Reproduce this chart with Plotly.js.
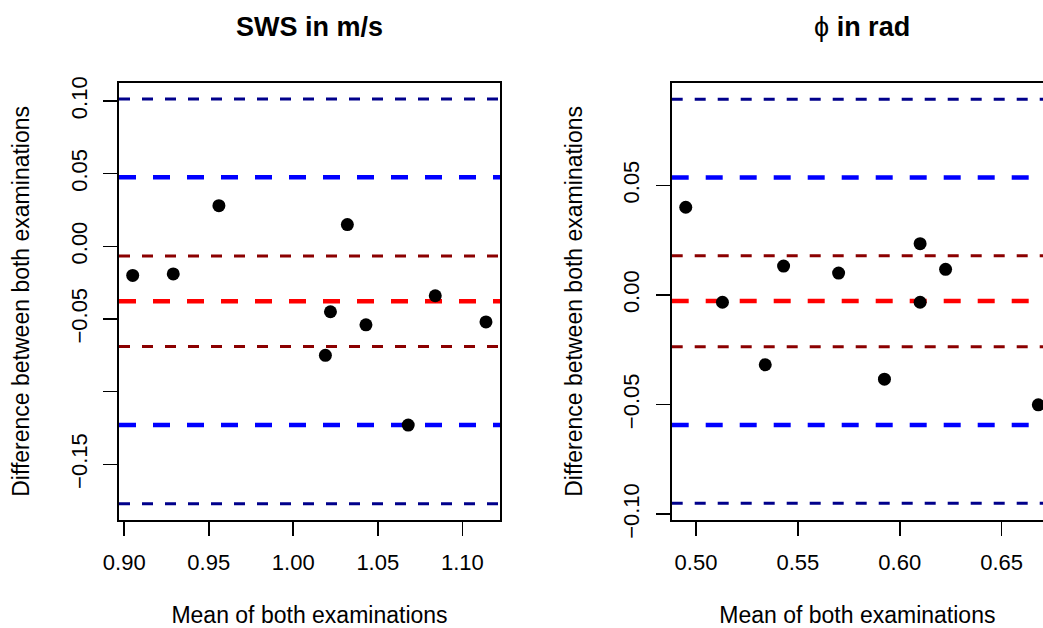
<!DOCTYPE html>
<html>
<head>
<meta charset="utf-8">
<script src="https://cdn.plot.ly/plotly-3.0.1.min.js"></script>
<style>
  html, body { margin: 0; padding: 0; background: #ffffff; }
  #chart { width: 1043px; height: 628px; }
</style>
</head>
<body>
<div id="chart"></div>
<script>
// ---------- data ----------
// Panel 1: SWS in m/s
const swsMean = [0.905, 0.929, 0.956, 1.019, 1.022, 1.032, 1.043, 1.068, 1.084, 1.114];
const swsDiff = [-0.020, -0.019, 0.028, -0.075, -0.045, 0.015, -0.054, -0.123, -0.034, -0.052];
// reference lines: outer upper, LoA upper, CI upper, mean diff, CI lower, LoA lower, outer lower
const swsRefLines = [0.1014, 0.0475, -0.0067, -0.0377, -0.0690, -0.1229, -0.1771];
const swsXTicks = [0.90, 0.95, 1.00, 1.05, 1.10];
const swsXTickText = ["0.90", "0.95", "1.00", "1.05", "1.10"];
const swsYTicks = [0.10, 0.05, 0.00, -0.05, -0.10, -0.15];
const swsYTickText = ["0.10", "0.05", "0.00", "\u22120.05", "", "\u22120.15"];

// Panel 2: phi in rad
const phiMean = [0.495, 0.513, 0.534, 0.543, 0.570, 0.5925, 0.610, 0.610, 0.6225, 0.668];
const phiDiff = [0.040, -0.0033, -0.0318, 0.0132, 0.0100, -0.0384, 0.0234, -0.0033, 0.0117, -0.0501];
const phiRefLines = [0.0893, 0.0536, 0.0179, -0.0027, -0.0236, -0.0593, -0.0950];
const phiXTicks = [0.50, 0.55, 0.60, 0.65];
const phiXTickText = ["0.50", "0.55", "0.60", "0.65"];
const phiYTicks = [0.05, 0.00, -0.05, -0.10];
const phiYTickText = ["0.05", "0.00", "\u22120.05", "\u22120.10"];

const panelTitles = ["<b>SWS in m/s</b>", "\u03d5 <b>in rad</b>"];
const xTitle = "Mean of both examinations";
const yTitle = "Difference between both examinations";

// ---------- styles ----------
const lineStyles = [
  {color: "#00008B", width: 3, dash: "11px,12px"},
  {color: "#0000FF", width: 4.5, dash: "17px,17px"},
  {color: "#8B0000", width: 3, dash: "11px,12px"},
  {color: "#FF0000", width: 4.5, dash: "17px,17px"},
  {color: "#8B0000", width: 3, dash: "11px,12px"},
  {color: "#0000FF", width: 4.5, dash: "17px,17px"},
  {color: "#00008B", width: 3, dash: "11px,12px"}
];

const FONT = "Liberation Sans, Arial, Helvetica, sans-serif";
const W = 1043, H = 628;

function makeShapes(vals, xref, yref) {
  return vals.map((v, i) => ({
    type: "line", xref: xref + " domain", yref: yref,
    x0: 0, x1: 1, y0: v, y1: v,
    line: {color: lineStyles[i].color, width: lineStyles[i].width, dash: lineStyles[i].dash},
    layer: "below"
  }));
}

function xAxis(domain, range, tv, tt, anchor, mirror) {
  return {
    domain: domain, range: range, anchor: anchor,
    showline: true, linecolor: "#000", linewidth: 1.6, mirror: mirror,
    showgrid: false, zeroline: false,
    ticks: "outside", ticklen: 14, tickwidth: 1.6, tickcolor: "#000",
    tickvals: tv, ticktext: tt,
    tickfont: {family: FONT, size: 22, color: "#000"},
    ticklabelstandoff: 8,
    title: {text: xTitle, font: {family: FONT, size: 23, color: "#000"}, standoff: 35},
    automargin: false
  };
}
function yAxis(domain, range, tv, tt, anchor, mirror) {
  return {
    domain: domain, range: range, anchor: anchor,
    showline: true, linecolor: "#000", linewidth: 1.6, mirror: mirror,
    showgrid: false, zeroline: false,
    ticks: "outside", ticklen: 14, tickwidth: 1.6, tickcolor: "#000",
    tickvals: tv, ticktext: tt, tickangle: -90,
    tickfont: {family: FONT, size: 22, color: "#000"},
    ticklabelstandoff: 8,
    title: {text: yTitle, font: {family: FONT, size: 23, color: "#000"}, standoff: 30},
    automargin: false
  };
}

const yDom = [1 - 520 / H, 1 - 82.7 / H];

const traces = [
  {x: swsMean, y: swsDiff, xaxis: "x", yaxis: "y", type: "scatter", mode: "markers",
   marker: {color: "#000", size: 13}, hoverinfo: "x+y", showlegend: false},
  {x: phiMean, y: phiDiff, xaxis: "x2", yaxis: "y2", type: "scatter", mode: "markers",
   marker: {color: "#000", size: 13}, hoverinfo: "x+y", showlegend: false, cliponaxis: true}
];

const layout = {
  width: W, height: H,
  margin: {l: 0, r: 0, t: 0, b: 0, pad: 0},
  paper_bgcolor: "#fff", plot_bgcolor: "#fff",
  font: {family: FONT, color: "#000"},
  showlegend: false,
  xaxis: xAxis([119 / W, 500 / W], [0.8969, 1.1223], swsXTicks, swsXTickText, "y", true),
  yaxis: yAxis(yDom, [-0.1883, 0.1126], swsYTicks, swsYTickText, "x", true),
  xaxis2: xAxis([671.7 / W, 1], [0.4881, 0.6703], phiXTicks, phiXTickText, "y2", true),
  yaxis2: yAxis(yDom, [-0.1026, 0.0968], phiYTicks, phiYTickText, "x2", false),
  shapes: makeShapes(swsRefLines, "x", "y").concat(makeShapes(phiRefLines, "x2", "y2")),
  annotations: [
    {text: panelTitles[0], xref: "paper", yref: "paper", x: 309.5 / W, y: 1 - 27 / H,
     xanchor: "center", yanchor: "middle", showarrow: false,
     font: {family: FONT, size: 27, color: "#000"}},
    {text: panelTitles[1], xref: "paper", yref: "paper", x: 862 / W, y: 1 - 27 / H,
     xanchor: "center", yanchor: "middle", showarrow: false,
     font: {family: FONT, size: 27, color: "#000"}}
  ]
};

Plotly.newPlot("chart", traces, layout, {displayModeBar: false, staticPlot: true});
</script>
</body>
</html>
